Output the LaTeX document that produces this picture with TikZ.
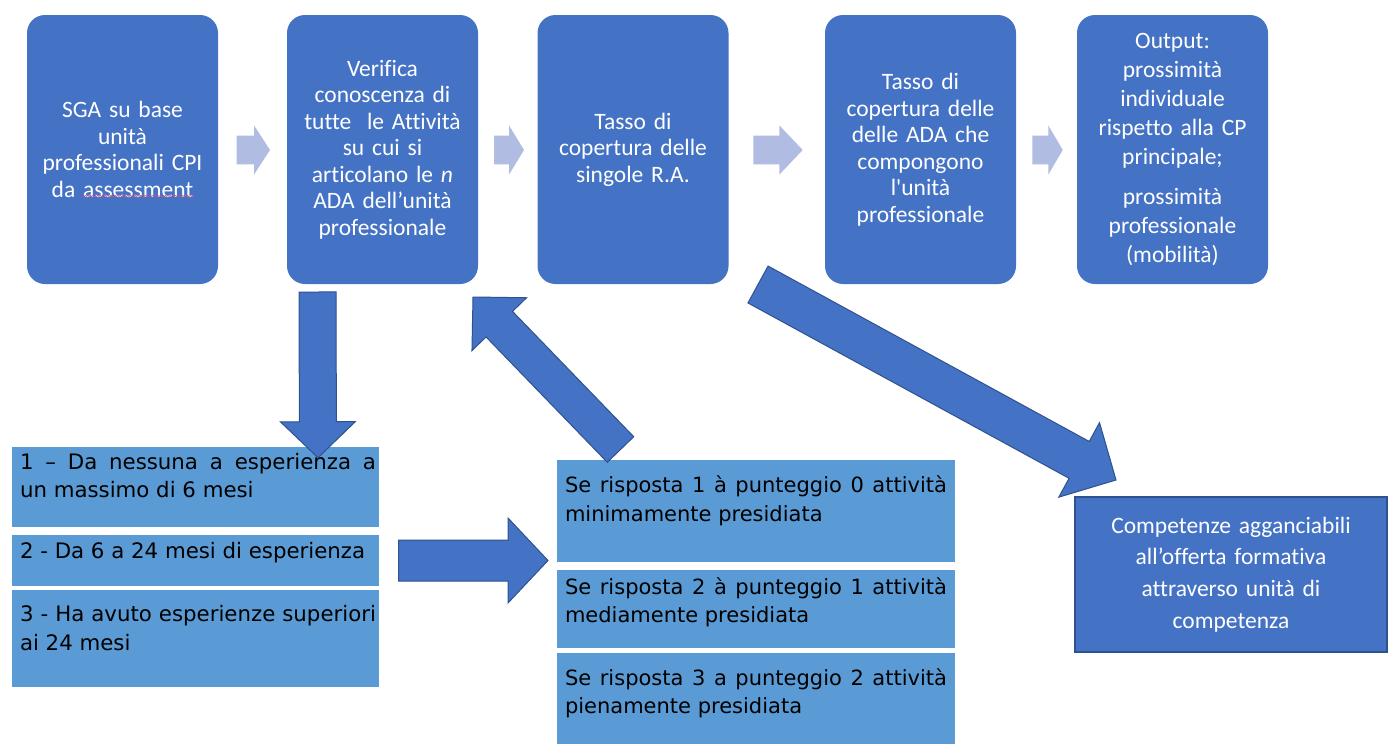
\documentclass[tikz,border=0pt]{standalone}
\usepackage{fontspec}
\setmainfont{Carlito}
\newfontfamily\calibrifont{Carlito}[Ligatures={NoCommon,NoContextual}]
\newfontfamily\boxfont{DejaVu Sans}
\usepackage{tikz}
\usetikzlibrary{shapes,positioning,calc,decorations.pathmorphing}

\definecolor{topblue}{HTML}{4472C4}
\definecolor{lightblue}{HTML}{5B9BD5}
\definecolor{edgeblue}{HTML}{2F528F}
\definecolor{paleblue}{RGB}{176,188,226}
\definecolor{spellred}{RGB}{205,80,130}

% style, tail, tip, half shaft, half head, head length
\newcommand{\blockarrow}[6]{%
  \coordinate (ba base) at ($(#3)!#6!(#2)$);
  \draw[#1] ($(#2)!#4!90:(#3)$) -- ($(ba base)!#4!90:(#3)$)
    -- ($(ba base)!#5!90:(#3)$) -- (#3)
    -- ($(ba base)!#5!-90:(#3)$) -- ($(ba base)!#4!-90:(#3)$)
    -- ($(#2)!#4!-90:(#3)$) -- cycle;
}

\begin{document}
\begin{tikzpicture}[x=1pt,y=-1pt,node distance=8pt]
  \tikzstyle{topbox}=[rectangle,rounded corners=18pt,fill=topblue,text=white,
                      minimum width=191pt,minimum height=269pt,inner sep=4pt,
                      text width=183pt,align=center,
                      font=\calibrifont\fontsize{23.5}{26.5}\selectfont]
  \tikzstyle{stepgo}=[fill=paleblue,draw=none]
  \tikzstyle{bigarrow}=[fill=topblue,draw=edgeblue,line width=1pt,line join=miter]
  \tikzstyle{lbox}=[rectangle,fill=lightblue,minimum width=367pt,inner sep=0pt]
  \tikzstyle{mbox}=[lbox,minimum width=398pt]
  \tikzstyle{ltext}=[inner sep=0pt,text width=356pt,align=justify,
                     font=\boxfont\fontsize{21.3}{28.3}\selectfont]
  \tikzstyle{mtext}=[ltext,text width=382pt,font=\boxfont\fontsize{21}{28.3}\selectfont]
  \tikzstyle{outbox}=[rectangle,fill=topblue,draw=edgeblue,line width=1.2pt,
                      minimum width=312pt,minimum height=155pt,text=white,
                      text width=300pt,align=center,
                      font=\calibrifont\fontsize{23.5}{31.7}\selectfont]

  \useasboundingbox (0,0) rectangle (1389,744);

  \begin{scope}
    \node [topbox] (sga) at (122.5,149.5)
      {SGA su base\\ unità\\ professionali CPI\\ da assessment};
    \node [topbox] (verifica) at (382.5,149.5)
      {Verifica\\ conoscenza di\\ tutte\ \ le Attività\\ su cui si\\
       articolano le \textit{n}\\ ADA dell’unità\\ professionale};
    \node [topbox,minimum width=190pt] (tassora) at (633,149.5)
      {Tasso di\\ copertura delle\\ singole R.A.};
    \node [topbox] (tassoada) at (920.5,149.5)
      {Tasso di\\ copertura delle\\ delle ADA che\\ compongono\\ l'unità\\ professionale};
    \node [topbox,font=\calibrifont\fontsize{23.5}{29}\selectfont] (output) at (1172.5,149.5)
      {Output:\\ prossimità\\ individuale\\ rispetto alla CP\\ principale;\\[11pt]
       prossimità\\ professionale\\ (mobilità)};
  \end{scope}

  \draw[spellred,line width=0.7pt,decorate,
        decoration={snake,amplitude=0.4pt,segment length=2.5pt}] (82,196) -- (194,196);

  \coordinate (go1 tail) at (236.7,150);  \coordinate (go1 tip) at (270,150);
  \coordinate (go2 tail) at (494,150);    \coordinate (go2 tip) at (524,150);
  \coordinate (go3 tail) at (753.3,150);  \coordinate (go3 tip) at (802.7,150);
  \coordinate (go4 tail) at (1032.3,150); \coordinate (go4 tip) at (1062.7,150);
  \blockarrow{stepgo}{go1 tail}{go1 tip}{14.3pt}{24.6pt}{16pt}
  \blockarrow{stepgo}{go2 tail}{go2 tip}{14.3pt}{24.6pt}{15pt}
  \blockarrow{stepgo}{go3 tail}{go3 tip}{14.3pt}{24.6pt}{23.4pt}
  \blockarrow{stepgo}{go4 tail}{go4 tip}{14.3pt}{24.6pt}{14.4pt}

  \node [lbox,minimum height=79.7pt] (esp1) at (195.5,486.85) {};
  \node [lbox,minimum height=50.7pt,below=8pt of esp1] (esp2) {};
  \node [lbox,minimum height=97pt,below=3.5pt of esp2] (esp3) {};
  \node [ltext,below right=6pt and 8pt of esp1.north west]
    {1 – Da nessuna a esperienza a\linebreak un massimo di 6 mesi};
  \node [ltext,below right=7pt and 8pt of esp2.north west]
    {2 - Da 6 a 24 mesi di esperienza};
  \node [ltext,below right=16pt and 8pt of esp3.north west]
    {3 - Ha avuto esperienze superiori ai 24 mesi};

  \node [mbox,minimum height=101.7pt] (risp1) at (756,510.85) {};
  \node [mbox,minimum height=78pt,below=8.3pt of risp1] (risp2) {};
  \node [mbox,minimum height=93pt,below=4pt of risp2] (risp3) {};
  \node [mtext,below right=16pt and 8pt of risp1.north west]
    {Se risposta 1 à punteggio 0 attività minimamente presidiata};
  \node [mtext,below right=7pt and 8pt of risp2.north west]
    {Se risposta 2 à punteggio 1 attività mediamente presidiata};
  \node [mtext,below right=16pt and 8pt of risp3.north west]
    {Se risposta 3 a punteggio 2 attività pienamente presidiata};

  \node [outbox] (comp) at (1231,574.5)
    {Competenze agganciabili\\ all’offerta formativa\\ attraverso unità di\\ competenza};

  \coordinate (dn tail) at (317.5,292);   \coordinate (dn tip) at (318,457.7);
  \coordinate (up tail) at (620.5,449.5); \coordinate (up tip) at (473,297);
  \coordinate (rt tail) at (398.7,560.5); \coordinate (rt tip) at (548,560.5);
  \coordinate (dg tail) at (758,284.5);   \coordinate (dg tip) at (1116,480);
  \blockarrow{bigarrow}{dn tail}{dn tip}{18.5pt}{37.5pt}{36pt}
  \blockarrow{bigarrow}{up tail}{up tip}{18.4pt}{38pt}{37.8pt}
  \blockarrow{bigarrow}{rt tail}{rt tip}{20.5pt}{42.5pt}{40pt}
  \blockarrow{bigarrow}{dg tail}{dg tip}{21pt}{42.5pt}{42pt}
\end{tikzpicture}
\end{document}
